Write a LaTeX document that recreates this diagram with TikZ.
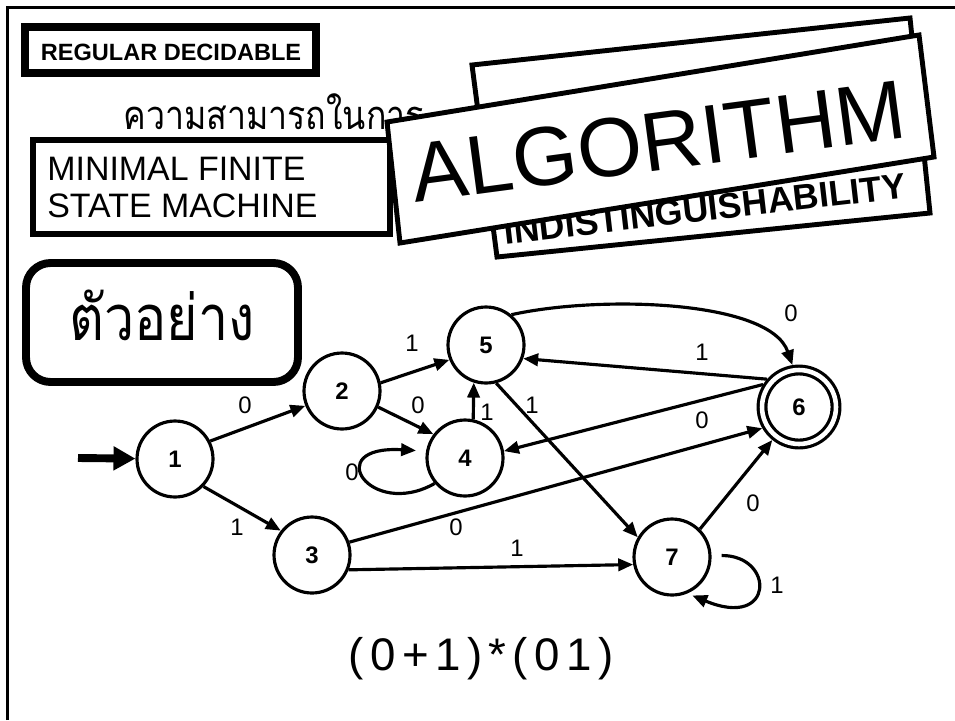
\documentclass[tikz,border=0pt]{standalone}
\usepackage{fontspec}
\setmainfont{Liberation Sans}
\newfontfamily\thaifont[Script=Thai,FakeStretch=0.85]{Loma}
\usetikzlibrary{arrows.meta}

\tikzset{
  state/.style={circle,draw,line width=1.8pt,minimum size=1.52cm,inner sep=0pt,
    font=\bfseries\fontsize{13.6}{16}\selectfont},
  accept/.style={state,minimum size=1.48cm,double,double distance=2.6pt,outer sep=3.1pt},
  trans/.style={line width=1.8pt,-{Triangle[length=8.5pt,width=7pt]}},
  lbl/.style={font=\fontsize{13.6}{16}\selectfont,inner sep=0pt},
}

\begin{document}
\begin{tikzpicture}[x=0.02cm,y=-0.02cm]
  \useasboundingbox (0,0) rectangle (955,720);
  % frame
  \draw[line width=1.8pt] (7.5,720) -- (7.5,7.5) -- (955,7.5);
  % headings
  \draw[line width=4.5pt] (25,27) rectangle (316,73);
  \node (regdec) at (171,60) [anchor=base,inner sep=0pt,font=\bfseries\fontsize{13.4}{16}\selectfont] {REGULAR DECIDABLE};
  \node (thaititle) at (123,129) [anchor=base west,inner sep=0pt,font=\thaifont\fontsize{22.7}{26}\selectfont] {ความสามารถในการ};
  \draw[line width=3.4pt] (33,140) rectangle (390,234);
  \node (minfsm) at (47,217) [anchor=base west,inner sep=0pt,align=left,font=\fontsize{19.3}{21}\selectfont] {MINIMAL FINITE\\STATE MACHINE};
  % tilted cards
  \draw[line width=2.8pt,fill=white] (472,65) -- (910,18) -- (930,213) -- (497,257) -- cycle;
  \node (indist) at (706,221) [anchor=base,inner sep=0pt,rotate=6.6,font=\bfseries\fontsize{20.3}{24}\selectfont] {INDISTINGUISHABILITY};
  \draw[line width=2.8pt,fill=white] (387,122) -- (919,35) -- (934,157) -- (400,243) -- cycle;
  \node (algo) at (662,170) [anchor=base,inner sep=0pt,rotate=7.6,font=\fontsize{47.6}{50}\selectfont] {ALGORITHM};
  % example box
  \draw[line width=4.5pt,rounded corners=14pt] (26,263) rectangle (298,382);
  \node (example) at (162,340) [anchor=base,inner sep=0pt,font=\thaifont\fontsize{36}{40}\selectfont] {ตัวอย่าง};
  % states
  \node[state] (n1) at (175,459) {1};
  \node[state] (n2) at (342,391) {2};
  \node[state] (n3) at (312,555) {3};
  \node[state] (n4) at (465,458) {4};
  \node[state] (n5) at (486,345) {5};
  \node[accept] (n6) at (799,407) {6};
  \node[state] (n7) at (672,557) {7};
  % transitions
  \coordinate (start) at (78,458);
  \draw[line width=4.5pt,-{Triangle[length=12.5pt,width=13pt]}] (start) -- (n1);
  \draw[trans] (n1.27) -- (n2.202);
  \draw[trans] (n1.-44) -- (n3.142);
  \draw[trans] (n2.12) -- (n5.202);
  \draw[trans] (n2.-24) -- (n4.143);
  \draw[trans] (n4.78) -- (n5.252);
  \draw[trans,shorten >=5.7pt] (n4.220) .. controls (370,520) and (320,445) .. (n4.170);
  \draw[trans] (n5.50) .. controls (600,295) and (770,300) .. (n6.99);
  \draw[trans] (n6.139) -- (n5.-20);
  \draw[trans] (n6.148) -- (n4.10);
  \draw[trans] (n5.285) -- (n7.150);
  \draw[trans] (n3.19) -- (n6.210);
  \draw[trans] (n3.-22) -- (n7.191);
  \draw[trans] (n7.45) -- (n6.231);
  \draw[trans,shorten <=5.7pt,shorten >=3pt] (n7.2) .. controls (775,555) and (775,630) .. (n7.-67);
  % labels
  \node[lbl] (e12) at (245,405) {0};
  \node[lbl] (e13) at (237,527) {1};
  \node[lbl] (e25) at (412,343) {1};
  \node[lbl] (e24) at (418,405) {0};
  \node[lbl] (e44) at (352,472) {0};
  \node[lbl] (e45) at (487,412) {1};
  \node[lbl] (e57) at (532,405) {1};
  \node[lbl] (e56) at (791,313) {0};
  \node[lbl] (e65) at (702,352) {1};
  \node[lbl] (e64) at (702,420) {0};
  \node[lbl] (e36) at (456,527) {0};
  \node[lbl] (e37) at (517,548) {1};
  \node[lbl] (e76) at (753,503) {0};
  \node[lbl] (e77) at (777,585) {1};
  % expression
  \node (regex) at (481,670) [anchor=base,inner sep=0pt,font=\fontsize{26}{30}\selectfont\addfontfeature{LetterSpace=14}] {(0+1)*(01)};
\end{tikzpicture}
\end{document}
